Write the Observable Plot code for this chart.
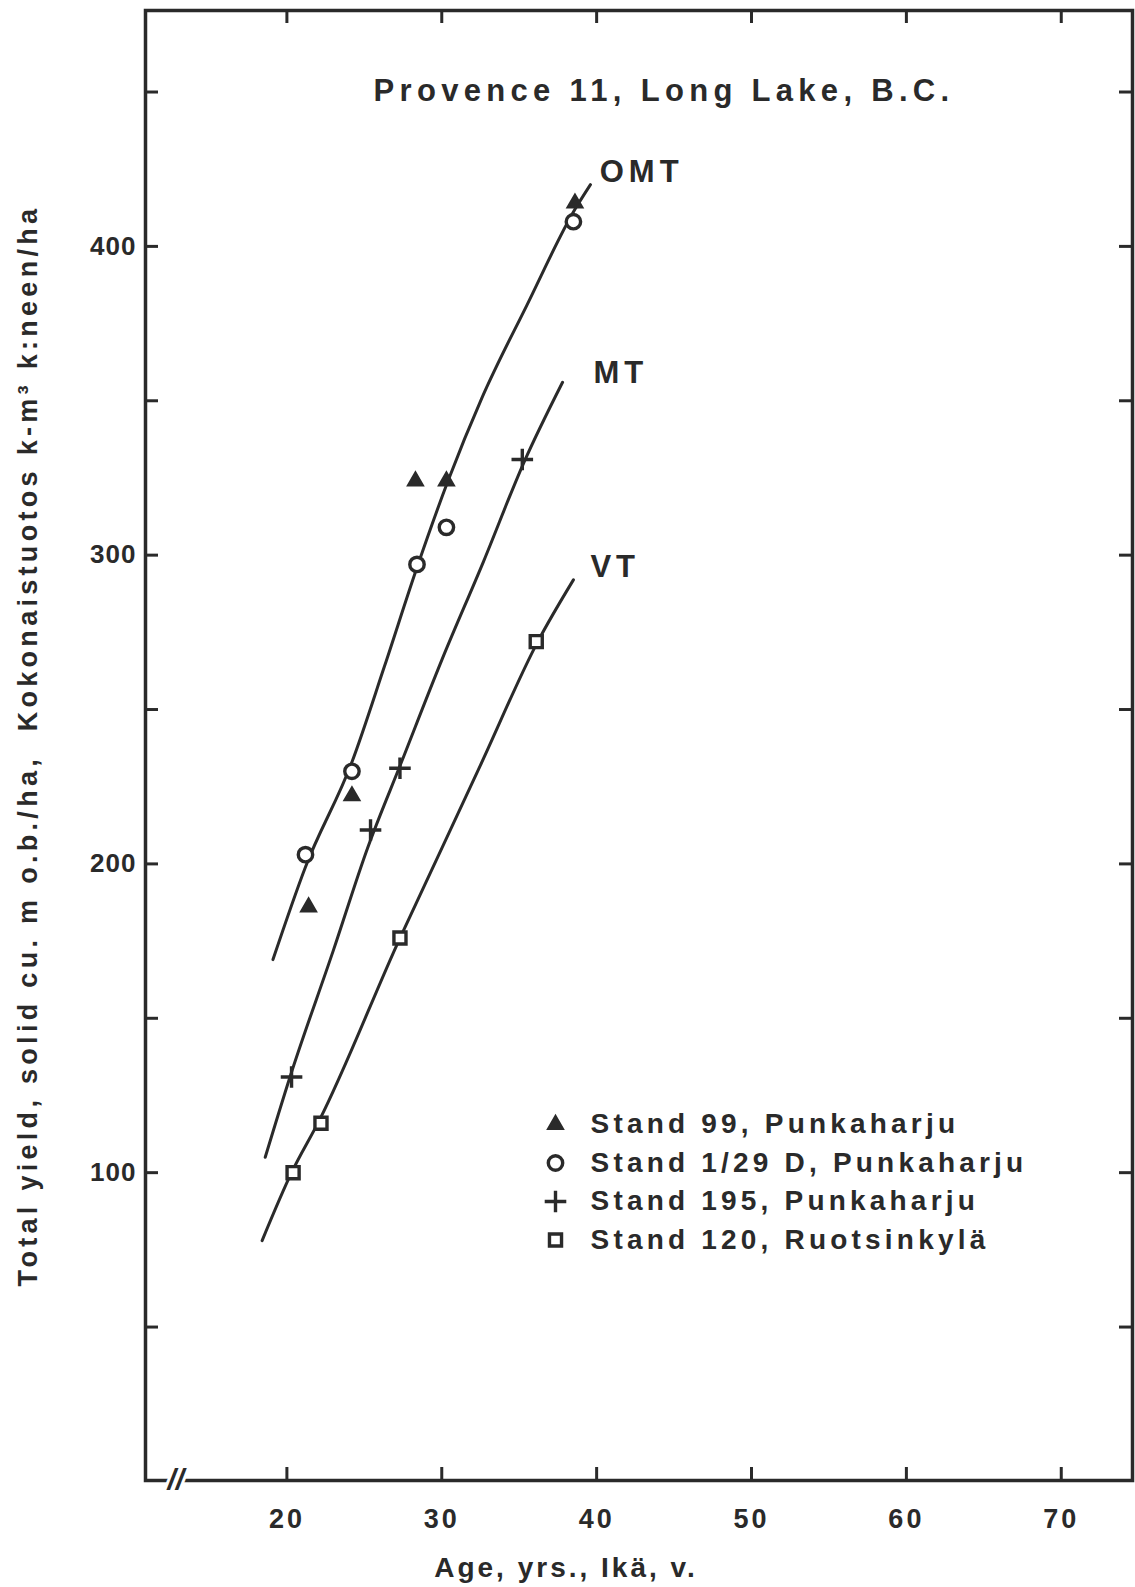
<!DOCTYPE html>
<html>
<head>
<meta charset="utf-8">
<script src="https://cdn.jsdelivr.net/npm/d3@7"></script>
<script src="https://cdn.jsdelivr.net/npm/@observablehq/plot@0.6"></script>
<style>
  html, body { margin: 0; padding: 0; background: #fff; }
  #chart svg { display: block; }
  g[aria-label="x-axis tick label"] text { letter-spacing: 3px; }
  g[aria-label="y-axis tick label"] text { letter-spacing: 1px; }
</style>
</head>
<body>
<div id="chart"></div>
<script>
// ---- text ----
const titleText = "Provence 11, Long Lake, B.C.";
const xLabelText = "Age, yrs., Ikä, v.";
const yLabelText = "Total yield, solid cu. m o.b./ha,  Kokonaistuotos k-m³ k:neen/ha";

// ---- ticks ----
const xTicks = [20, 30, 40, 50, 60, 70];
const yTicks = [50, 100, 150, 200, 250, 300, 350, 400, 450];
const yLabelTicks = [100, 200, 300, 400];

// ---- fitted curves (age, total yield) ----
const omtCurve = [[19.1,169],[21.2,199],[24.2,233],[26.3,264],[28.4,296],[30.4,324],[32.6,351],[35.5,381],[38.6,412],[39.6,420]];
const mtCurve  = [[18.6,105],[20.2,131],[23.0,172],[25.2,205],[27.4,233],[30.0,266],[32.7,298],[35.3,330],[37.8,356]];
const vtCurve  = [[18.4,78],[20.3,100],[22.1,117],[27.3,176],[30.0,205],[32.5,232],[36.2,272],[38.5,292]];

// ---- curve labels ----
const curveNames = ["OMT", "MT", "VT"];
const curveLabelAge = [40.2, 39.8, 39.6];
const curveLabelYield = [424, 359, 296];

// ---- observations ----
const stand99  = [[38.6,414],[28.3,324],[30.3,324],[24.2,222],[21.4,186]];   // triangle
const stand129 = [[38.5,408],[30.3,309],[28.4,297],[24.2,230],[21.2,203]];   // circle
const stand195 = [[35.2,331],[27.3,231],[25.4,211],[20.3,131]];              // plus
const stand120 = [[36.1,272],[27.3,176],[22.2,116],[20.4,100]];              // square

// ---- legend ----
const legendLabels = ["Stand 99, Punkaharju", "Stand 1/29 D, Punkaharju", "Stand 195, Punkaharju", "Stand 120, Ruotsinkylä"];
const legendSymbols = ["triangle", "circle", "plus", "square"];

// ---- styling ----
const ink = "#2a2a2a";
const W = 1135, H = 1587;
const mL = 145, mR = 3, mT = 10, mB = 107;
const plotW = W - mL - mR, plotH = H - mT - mB;
const font = "'Liberation Sans', Arial, Helvetica, sans-serif";

const symbolStyle = {
  triangle: {r: 5, stroke: ink, strokeWidth: 3, fill: ink},
  circle:   {r: 7.2, stroke: ink, strokeWidth: 3.4, fill: "#fff"},
  plus:     {r: 7, stroke: ink, strokeWidth: 3.4, fill: "none"},
  square:   {r: 6.8, stroke: ink, strokeWidth: 3.4, fill: "#fff"}
};

const px = d => d[0], py = d => d[1];

const legendMarks = legendLabels.flatMap((label, i) => [
  Plot.dot([label], {frameAnchor: "top-left", dx: 410, dy: 1114 + i * 38.5,
    symbol: legendSymbols[i], ...symbolStyle[legendSymbols[i]]}),
  Plot.text([label], {frameAnchor: "top-left", dx: 445, dy: 1114 + i * 38.5, lineAnchor: "middle",
    text: d => d, textAnchor: "start", fontSize: 28, fontWeight: "bold", fill: ink})
]);

const chart = Plot.plot({
  width: W, height: H,
  marginLeft: mL, marginRight: mR, marginTop: mT, marginBottom: mB,
  style: {fontFamily: font, color: ink, background: "#fff", overflow: "visible"},
  x: {domain: [10.87, 74.6]},
  y: {domain: [0.3, 476.4]},
  marks: [
    // inward ticks on all four sides
    Plot.tickX(xTicks, {x: d => d, insetTop: plotH - 13, stroke: ink, strokeWidth: 3}),
    Plot.tickX(xTicks, {x: d => d, insetBottom: plotH - 13, stroke: ink, strokeWidth: 3}),
    Plot.tickY(yTicks, {y: d => d, insetRight: plotW - 13, stroke: ink, strokeWidth: 3}),
    Plot.tickY(yTicks, {y: d => d, insetLeft: plotW - 13, stroke: ink, strokeWidth: 3}),
    Plot.frame({stroke: ink, strokeWidth: 3.5}),
    // axis break
    Plot.text(["//"], {frameAnchor: "bottom-left", dx: 22, dy: 0, lineAnchor: "middle", fontSize: 30, fontWeight: "bold",
      fontStyle: "italic", fill: ink, stroke: "#fff", strokeWidth: 6, paintOrder: "stroke"}),
    // tick labels
    Plot.axisX({ticks: xTicks, tickSize: 0, tickPadding: 28, label: null, fontSize: 27, fontWeight: "bold", anchor: "bottom"}),
    Plot.axisY({ticks: yLabelTicks, tickSize: 0, tickPadding: 9, label: null, fontSize: 26, fontWeight: "bold", anchor: "left"}),
    // curves
    Plot.line(omtCurve, {x: px, y: py, curve: "monotone-x", stroke: ink, strokeWidth: 3}),
    Plot.line(mtCurve,  {x: px, y: py, curve: "monotone-x", stroke: ink, strokeWidth: 3}),
    Plot.line(vtCurve,  {x: px, y: py, curve: "monotone-x", stroke: ink, strokeWidth: 3}),
    // observations
    Plot.dot(stand99,  {x: px, y: py, symbol: "triangle", ...symbolStyle.triangle}),
    Plot.dot(stand129, {x: px, y: py, symbol: "circle", ...symbolStyle.circle}),
    Plot.dot(stand195, {x: px, y: py, symbol: "plus", ...symbolStyle.plus}),
    Plot.dot(stand120, {x: px, y: py, symbol: "square", ...symbolStyle.square}),
    // curve labels
    Plot.text(curveNames, {x: (d, i) => curveLabelAge[i], y: (d, i) => curveLabelYield[i], text: d => d,
      textAnchor: "start", fontSize: 31, fontWeight: "bold", fill: ink}),
    // title inside frame
    Plot.text([titleText], {frameAnchor: "top", dx: 25, dy: 81, lineAnchor: "middle", fontSize: 31, fontWeight: "bold", fill: ink}),
    // axis titles
    Plot.text([xLabelText], {frameAnchor: "bottom", dx: -73, dy: 88, lineAnchor: "middle", fontSize: 28, fontWeight: "bold", fill: ink}),
    Plot.text([yLabelText], {frameAnchor: "left", dx: -117, rotate: -90, textAnchor: "middle", lineAnchor: "middle", fontSize: 27, fontWeight: "bold", fill: ink}),
    ...legendMarks
  ]
});

// letter spacing (the original lettering is widely tracked)
const spacing = new Map([
  [titleText, 5.3], [xLabelText, 3], [yLabelText, 4.3],
  ...curveNames.map(n => [n, 5]),
  ...legendLabels.map(n => [n, 4.2])
]);
d3.select(chart).selectAll("text").each(function () {
  const s = spacing.get(this.textContent);
  if (s != null) this.style.letterSpacing = s + "px";
});

document.getElementById("chart").appendChild(chart);
</script>
</body>
</html>
